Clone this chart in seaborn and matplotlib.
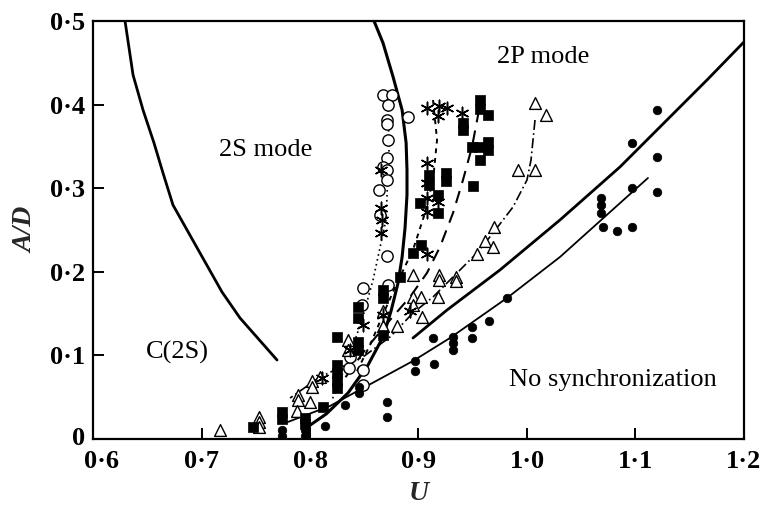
import matplotlib
matplotlib.use("Agg")
import matplotlib.pyplot as plt
import matplotlib.transforms as mtransforms
import pandas as pd
import seaborn as sns

# ---------------------------------------------------------------- axes
x_ticks = [0.6, 0.7, 0.8, 0.9, 1.0, 1.1, 1.2]
x_tick_labels = ["0·6", "0·7", "0·8", "0·9", "1·0", "1·1", "1·2"]
y_ticks = [0.0, 0.1, 0.2, 0.3, 0.4, 0.5]
y_tick_labels = ["0", "0·1", "0·2", "0·3", "0·4", "0·5"]

# ---------------------------------------------------------------- regime boundaries
c2s_u = [0.6295, 0.6369, 0.6461, 0.6562, 0.6645, 0.6737, 0.6986, 0.7189, 0.7355, 0.7696]
c2s_ad = [0.500, 0.4354, 0.3935, 0.3541, 0.3182, 0.2799, 0.2225, 0.1758, 0.1447, 0.0945]

s2p_u = [0.8590, 0.8673, 0.8766, 0.8849, 0.8886, 0.8894, 0.8894, 0.8876, 0.8849, 0.8810,
         0.8747, 0.8673, 0.8535, 0.8350, 0.8150, 0.7950]
s2p_ad = [0.500, 0.4737, 0.4330, 0.3935, 0.3541, 0.3218, 0.2919, 0.2524, 0.2177, 0.1858,
          0.1531, 0.1220, 0.0885, 0.0550, 0.0300, 0.0120]

upper_u = [0.8949, 0.9263, 0.9751, 1.0304, 1.0857, 1.1659, 1.2000]
upper_ad = [0.1208, 0.1543, 0.2022, 0.2620, 0.3254, 0.4294, 0.4749]

lower_u = [0.7770, 0.8184, 0.8949, 0.9290, 0.9816, 1.0304, 1.1115]
lower_ad = [0.0191, 0.0395, 0.0933, 0.1208, 0.1687, 0.2177, 0.3122]

# ---------------------------------------------------------------- fitted trends
circ_fit_u = [0.8719, 0.8728, 0.8700, 0.8581, 0.8479, 0.8350, 0.8203]
circ_fit_ad = [0.4055, 0.3457, 0.2620, 0.1902, 0.1423, 0.0945, 0.0467]

star_fit_u = [0.9134, 0.9171, 0.9134, 0.9060, 0.8949, 0.8802, 0.8691, 0.8553, 0.8415]
star_fit_ad = [0.4055, 0.3577, 0.3098, 0.2703, 0.2261, 0.1866, 0.1543, 0.1124, 0.0766]

sq_fit_u = [0.9558, 0.9493, 0.9410, 0.9318, 0.9198, 0.9078, 0.8922, 0.8737, 0.8507, 0.8276]
sq_fit_ad = [0.3935, 0.3493, 0.3098, 0.2703, 0.2297, 0.1986, 0.1699, 0.1423, 0.1065, 0.0646]

tri_fit_u = [1.0074, 1.0037, 1.0000, 0.9871, 0.9687, 0.9539, 0.9318, 0.9134, 0.8949,
             0.8737, 0.8488, 0.8092, 0.7816]
tri_fit_ad = [0.3816, 0.3337, 0.3098, 0.2775, 0.2464, 0.2225, 0.1938, 0.1699, 0.1507,
              0.1220, 0.0981, 0.0742, 0.0490]

# ---------------------------------------------------------------- measurements
circ_u = [0.8673, 0.8756, 0.8719, 0.8903, 0.8710, 0.8710, 0.8719, 0.8710, 0.8673, 0.8710,
          0.8710, 0.8636, 0.8645, 0.8710, 0.8719, 0.8488, 0.8479, 0.8488, 0.8488, 0.8359,
          0.8369]
circ_ad = [0.4115, 0.4115, 0.3995, 0.3852, 0.3816, 0.3768, 0.3577, 0.3361, 0.3254, 0.3218,
           0.3098, 0.2978, 0.2679, 0.2189, 0.1842, 0.1806, 0.1603, 0.0825, 0.0646, 0.0849,
           0.0981]

star_u = [0.9078, 0.9189, 0.9263, 0.9180, 0.9401, 0.9078, 0.9078, 0.9078, 0.9180, 0.9078,
          0.9078, 0.8654, 0.8654, 0.8664, 0.8654, 0.8488, 0.8673, 0.8922, 0.8369, 0.8111]
star_ad = [0.3959, 0.3983, 0.3959, 0.3864, 0.3900, 0.3301, 0.3062, 0.2883, 0.2835, 0.2715,
           0.2213, 0.3218, 0.2763, 0.2620, 0.2464, 0.1364, 0.1483, 0.1531, 0.1065, 0.0730]

sq_u = [0.9567, 0.9567, 0.9641, 0.9410, 0.9410, 0.9493, 0.9558, 0.9641, 0.9641, 0.9567,
        0.9502, 0.9097, 0.9097, 0.9253, 0.9253, 0.9180, 0.9180, 0.9014, 0.9023, 0.8949,
        0.8829, 0.8673, 0.8673, 0.8442, 0.8442, 0.8249, 0.8673, 0.8442, 0.8442, 0.8249,
        0.8249, 0.8249, 0.8249, 0.8120, 0.7742, 0.7742, 0.7954, 0.7954, 0.7475]
sq_ad = [0.4055, 0.3947, 0.3876, 0.3780, 0.3696, 0.3493, 0.3493, 0.3553, 0.3457, 0.3337,
         0.3026, 0.3158, 0.3038, 0.3182, 0.3086, 0.2919, 0.2703, 0.2823, 0.2321, 0.2225,
         0.1938, 0.1782, 0.1687, 0.1579, 0.1447, 0.1220, 0.1244, 0.1160, 0.1065, 0.0885,
         0.0789, 0.0694, 0.0610, 0.0383, 0.0323, 0.0239, 0.0251, 0.0180, 0.0144]

dot_u = [1.1198, 1.0968, 1.1198, 1.0968, 1.1198, 1.0682, 1.0682, 1.0682, 1.0700, 1.0829,
         1.0968, 0.9816, 0.9650, 0.9493, 0.9493, 0.9318, 0.9318, 0.9318, 0.9134, 0.9143,
         0.8968, 0.8968, 0.8710, 0.8710, 0.8452, 0.8452, 0.8323, 0.8138, 0.7954, 0.7954,
         0.7742, 0.7742]
dot_ad = [0.3935, 0.3541, 0.3373, 0.3002, 0.2955, 0.2883, 0.2799, 0.2703, 0.2536, 0.2488,
          0.2536, 0.1687, 0.1411, 0.1340, 0.1208, 0.1220, 0.1148, 0.1065, 0.1208, 0.0897,
          0.0933, 0.0813, 0.0443, 0.0263, 0.0622, 0.0550, 0.0407, 0.0156, 0.0110, 0.0040,
          0.0110, 0.0040]

tri_u = [1.0074, 1.0175, 0.9917, 1.0074, 0.9696, 0.9613, 0.9687, 0.9539, 0.9189, 0.9189,
         0.9346, 0.9346, 0.8949, 0.8949, 0.9023, 0.9180, 0.8949, 0.9032, 0.8802, 0.8673,
         0.8673, 0.8350, 0.8350, 0.8092, 0.8018, 0.8018, 0.7889, 0.7889, 0.8000, 0.7880,
         0.7530, 0.7530, 0.7530, 0.7171]
tri_ad = [0.4019, 0.3876, 0.3218, 0.3218, 0.2536, 0.2368, 0.2297, 0.2213, 0.1962, 0.1902,
          0.1938, 0.1890, 0.1962, 0.1699, 0.1699, 0.1699, 0.1603, 0.1459, 0.1352, 0.1352,
          0.1531, 0.1184, 0.1065, 0.0742, 0.0694, 0.0622, 0.0526, 0.0467, 0.0443, 0.0335,
          0.0263, 0.0203, 0.0144, 0.0108]

# ---------------------------------------------------------------- style
sns.set_style("ticks")
plt.rcParams["font.family"] = ["Liberation Serif", "DejaVu Serif"]
plt.rcParams["axes.linewidth"] = 1.6

fig = plt.figure(figsize=(7.65, 5.07), dpi=100)
ax = fig.add_axes([0.1216, 0.1341, 0.8509, 0.8245])


def curve(u, ad, **kw):
    df = pd.DataFrame({"U": u, "AD": ad})
    sns.lineplot(data=df, x="U", y="AD", sort=False, estimator=None,
                 color="black", ax=ax, **kw)


# boundaries between shedding regimes
curve(c2s_u, c2s_ad, linewidth=2.0)
curve(s2p_u, s2p_ad, linewidth=2.2)
curve(upper_u, upper_ad, linewidth=2.0)
curve(lower_u, lower_ad, linewidth=1.3)

# trend lines through each data family
curve(circ_fit_u, circ_fit_ad, linewidth=1.2, linestyle=(0, (1, 2)))
curve(star_fit_u, star_fit_ad, linewidth=1.4, linestyle=(0, (2.5, 2.5)))
curve(sq_fit_u, sq_fit_ad, linewidth=1.5, linestyle=(0, (6, 4)))
curve(tri_fit_u, tri_fit_ad, linewidth=1.2, linestyle=(0, (6, 2, 1, 2)))

# measured points
sns.scatterplot(x=circ_u, y=circ_ad, marker="o", s=66, facecolor="white",
                edgecolor="black", linewidth=1.0, ax=ax, zorder=3)
sns.scatterplot(x=tri_u, y=tri_ad, marker="^", s=72, facecolor="white",
                edgecolor="black", linewidth=1.0, ax=ax, zorder=3)
sns.scatterplot(x=sq_u, y=sq_ad, marker="s", s=42, color="black",
                edgecolor="black", linewidth=0.5, ax=ax, zorder=4)
sns.scatterplot(x=dot_u, y=dot_ad, marker="o", s=38, color="black",
                edgecolor="black", linewidth=0.5, ax=ax, zorder=4)
sns.scatterplot(x=star_u, y=star_ad, marker=(6, 2, 0), s=80, color="black",
                linewidth=1.1, ax=ax, zorder=4)

# region names
text_kw = dict(fontsize=19, ha="center", va="center", color="black")
ax.text(0.7594, 0.3457, "2S mode", **text_kw)
ax.text(1.0147, 0.4570, "2P mode", **text_kw)
ax.text(0.6774, 0.1040, "C(2S)", **text_kw)
ax.text(1.0790, 0.0706, "No synchronization", **text_kw)

ax.set_xlim(0.6, 1.2)
ax.set_ylim(0.0, 0.5)
ax.set_xticks(x_ticks)
ax.set_xticklabels(x_tick_labels)
ax.set_yticks(y_ticks)
ax.set_yticklabels(y_tick_labels)
for lab in ax.get_xticklabels() + ax.get_yticklabels():
    lab.set_fontweight("bold")
ax.tick_params(direction="in", length=8, width=1.4, labelsize=19,
               top=False, right=False, color="black", labelcolor="black")
ax.tick_params(axis="x", pad=8)
ax.tick_params(axis="y", pad=6)
for sp in ax.spines.values():
    sp.set_visible(True)
    sp.set_color("black")
    sp.set_linewidth(1.6)

# the corner labels sit apart: nudge the first U label right, the zero A/D label up
first_x = ax.get_xticklabels()[0]
first_x.set_transform(first_x.get_transform()
                      + mtransforms.ScaledTranslation(8 / 100, 0, fig.dpi_scale_trans))
first_y = ax.get_yticklabels()[0]
first_y.set_transform(first_y.get_transform()
                      + mtransforms.ScaledTranslation(0, 3 / 100, fig.dpi_scale_trans))

ax.set_xlabel("U", fontsize=20, style="italic", fontweight="bold", labelpad=6)
ax.set_ylabel("A/D", fontsize=20, style="italic", fontweight="bold", labelpad=8)

fig.savefig("out.png", dpi=100, facecolor="white")
